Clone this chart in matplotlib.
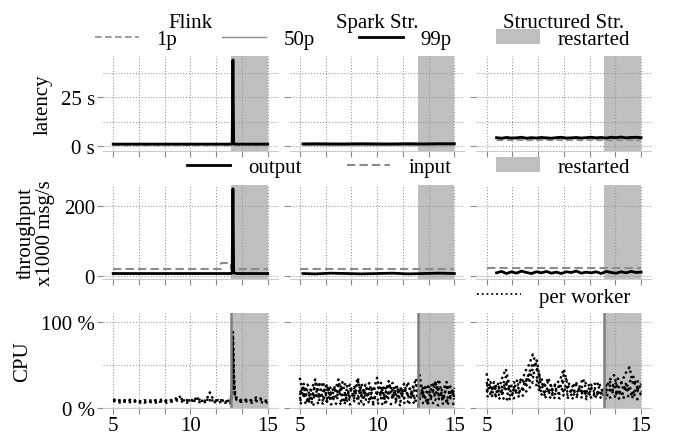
import numpy as np
import matplotlib
matplotlib.use("Agg")
import matplotlib.pyplot as plt
from matplotlib.lines import Line2D
from matplotlib.patches import Patch
from matplotlib.ticker import FixedLocator, FuncFormatter

plt.rcParams["font.family"] = ["Liberation Serif", "DejaVu Serif"]
plt.rcParams["font.size"] = 15

systems = ["Flink", "Spark Str.", "Structured Str."]
restart_at = 12.63
run_end = 15.0

# ---- latency (s) ----
flink_lat_t = [5.0, 6.0, 7.0, 8.0, 9.0, 10.0, 11.0, 12.0, 12.6, 12.7, 12.75, 12.8, 12.9, 13.5, 14.0, 15.0]
flink_lat_1p = [0.5, 0.5, 0.5, 0.5, 0.5, 0.5, 0.5, 0.5, 0.5, 0.5, 0.6, 0.5, 0.5, 0.5, 0.5, 0.5]
flink_lat_50p = [0.8, 0.8, 0.8, 0.8, 0.8, 0.8, 0.8, 0.8, 0.8, 0.9, 1.2, 0.9, 0.8, 0.8, 0.8, 0.8]
flink_lat_99p = [1.1, 1.1, 1.1, 1.1, 1.1, 1.1, 1.1, 1.1, 1.1, 1.2, 44.0, 1.3, 1.1, 1.1, 1.1, 1.1]

spark_lat_t = [5.2, 6.0, 7.0, 8.0, 9.0, 10.0, 11.0, 12.0, 13.0, 14.0, 15.0]
spark_lat_1p = [0.6, 0.6, 0.6, 0.6, 0.6, 0.6, 0.6, 0.6, 0.6, 0.6, 0.6]
spark_lat_50p = [0.9, 0.9, 0.9, 0.9, 0.9, 0.9, 0.9, 0.9, 0.9, 0.9, 0.9]
spark_lat_99p = [1.2, 1.3, 1.2, 1.2, 1.3, 1.2, 1.2, 1.3, 1.2, 1.3, 1.3]

struct_lat_t = np.linspace(5.65, 15.0, 30)
struct_lat_1p = [3.1, 3.0, 3.2, 3.0, 3.1, 3.2, 3.0, 3.1, 3.0, 3.2, 3.1, 3.0, 3.2, 3.1, 3.0,
                 3.1, 3.2, 3.0, 3.1, 3.2, 3.0, 3.1, 3.2, 3.0, 3.1, 3.0, 3.2, 3.1, 3.0, 3.2]
struct_lat_50p = [3.9, 3.7, 4.0, 3.8, 3.9, 3.7, 4.0, 3.8, 3.9, 3.7, 3.8, 4.0, 3.8, 3.9, 3.7,
                  4.0, 3.8, 3.9, 4.0, 3.9, 3.7, 3.8, 4.0, 3.9, 3.8, 4.0, 3.7, 3.9, 3.8, 4.0]
struct_lat_99p = [4.4, 4.1, 4.5, 4.2, 4.3, 4.6, 4.1, 4.4, 4.2, 4.5, 4.3, 4.1, 4.4, 4.6, 4.2,
                  4.3, 4.5, 4.2, 4.4, 4.6, 4.3, 4.5, 4.2, 4.6, 4.4, 4.7, 4.3, 4.5, 4.6, 4.4]

# ---- throughput (x1000 msg/s) ----
flink_out_t = [5.0, 8.0, 11.0, 12.6, 12.7, 12.75, 12.8, 13.0, 14.0, 15.0]
flink_out = [7, 7, 7, 7, 8, 250, 9, 7, 7, 7]
flink_in_t = [5.0, 11.95, 12.63, 15.0]
flink_in = [19, 38, 19, 19]

spark_out_t = [5.2, 6.0, 7.0, 8.0, 9.0, 10.0, 11.0, 12.0, 13.0, 14.0, 15.0]
spark_out = [7, 6, 8, 7, 6, 7, 8, 6, 7, 8, 7]
spark_in_t = [5.0, 15.0]
spark_in = [21, 21]

struct_out_t = np.linspace(5.65, 15.0, 30)
struct_out = [9, 13, 7, 12, 8, 14, 10, 7, 12, 9, 13, 8, 11, 7, 12,
              10, 14, 8, 11, 9, 12, 7, 13, 10, 8, 12, 9, 13, 10, 11]
struct_in_t = [5.0, 15.0]
struct_in = [23, 23]

# ---- CPU per worker (%) ----
flink_cpu_t = [5.0, 5.25, 5.5, 5.75, 6.0, 6.25, 6.5, 6.75, 7.0, 7.25, 7.5, 7.75, 8.0, 8.25,
               8.5, 8.75, 9.0, 9.25, 9.5, 9.75, 10.0, 10.25, 10.5, 10.75, 11.0, 11.25, 11.5,
               11.75, 12.0, 12.25, 12.5, 12.6, 12.7, 12.75, 12.8, 12.85, 12.9, 13.0, 13.25,
               13.5, 13.75, 14.0, 14.25, 14.5, 14.75, 15.0]
flink_cpu = [
    [10, 8, 9, 7, 8, 9, 7, 8, 6, 8, 7, 9, 7, 8, 8, 9, 10, 14, 9, 8, 9, 8, 10, 9, 8, 18, 9, 8,
     9, 8, 7, 6, 30, 88, 45, 25, 15, 11, 9, 10, 8, 9, 12, 10, 8, 7],
    [8, 7, 6, 8, 7, 6, 8, 6, 7, 6, 7, 6, 8, 7, 6, 7, 8, 9, 7, 6, 7, 12, 7, 6, 7, 9, 7, 6,
     7, 6, 6, 5, 20, 70, 35, 18, 12, 9, 7, 8, 7, 6, 8, 7, 6, 6],
    [9, 10, 8, 9, 10, 8, 9, 7, 9, 8, 9, 8, 9, 10, 8, 9, 9, 11, 10, 9, 8, 9, 11, 8, 9, 10, 8,
     9, 8, 9, 8, 7, 25, 80, 40, 22, 14, 10, 8, 9, 10, 8, 9, 11, 9, 8],
]

cpu_t = np.linspace(5.0, 15.0, 41)
spark_cpu = [
    [35, 12, 22, 8, 28, 15, 30, 10, 25, 18, 33, 9, 20, 27, 12, 31, 16, 8, 24, 19, 35, 11, 26,
     14, 29, 9, 22, 17, 30, 12, 25, 38, 10, 21, 28, 13, 33, 9, 24, 16, 20],
    [10, 25, 6, 18, 12, 30, 7, 22, 14, 9, 26, 15, 6, 19, 24, 8, 28, 13, 17, 6, 21, 29, 9, 18,
     12, 27, 7, 23, 14, 19, 8, 26, 15, 6, 22, 31, 10, 17, 7, 25, 12],
    [6, 4, 9, 5, 3, 7, 5, 8, 4, 6, 3, 7, 5, 4, 8, 6, 3, 5, 7, 4, 6, 3, 8, 5, 4, 7, 3, 6, 5, 8,
     4, 3, 6, 5, 7, 4, 3, 5, 6, 4, 5],
    [20, 15, 27, 19, 23, 11, 18, 26, 16, 21, 13, 24, 29, 11, 17, 22, 14, 27, 10, 25, 16, 19,
     13, 28, 20, 15, 24, 11, 18, 26, 21, 14, 19, 27, 12, 17, 23, 20, 30, 11, 18],
    [15, 28, 9, 21, 33, 12, 19, 27, 8, 24, 16, 30, 11, 22, 18, 35, 13, 20, 29, 9, 17, 25, 14,
     31, 10, 23, 19, 28, 12, 16, 34, 9, 26, 18, 13, 29, 21, 8, 27, 15, 23],
    [8, 14, 11, 6, 16, 9, 13, 7, 18, 10, 12, 6, 15, 9, 11, 14, 7, 19, 10, 13, 8, 16, 6, 12, 15,
     9, 18, 11, 7, 14, 10, 13, 17, 6, 11, 9, 15, 12, 8, 14, 10],
]
struct_cpu = [
    [40, 22, 30, 18, 34, 45, 25, 20, 33, 28, 42, 50, 62, 48, 30, 24, 35, 20, 28, 32, 45, 26,
     20, 30, 24, 34, 18, 27, 22, 30, 19, 24, 33, 38, 22, 30, 40, 47, 26, 32, 22],
    [18, 24, 14, 20, 16, 22, 10, 18, 24, 20, 30, 38, 45, 55, 28, 20, 16, 22, 14, 19, 24, 15,
     20, 13, 18, 22, 12, 17, 20, 14, 18, 12, 22, 16, 20, 14, 24, 18, 13, 20, 16],
    [14, 12, 16, 10, 13, 8, 15, 11, 14, 12, 18, 22, 30, 26, 17, 12, 14, 10, 13, 11, 15, 12,
     10, 14, 11, 13, 10, 12, 14, 11, 13, 10, 12, 14, 10, 13, 11, 15, 12, 10, 13],
    [25, 30, 20, 28, 24, 36, 22, 30, 26, 34, 28, 40, 52, 44, 36, 26, 30, 24, 28, 22, 38, 30,
     24, 28, 20, 26, 30, 22, 28, 24, 20, 26, 30, 24, 34, 28, 22, 30, 36, 24, 28],
    [22, 16, 26, 14, 20, 30, 18, 24, 15, 21, 26, 34, 42, 36, 22, 18, 24, 15, 20, 26, 30, 18,
     15, 22, 17, 20, 14, 22, 16, 18, 15, 20, 26, 18, 15, 22, 28, 20, 16, 24, 18],
    [30, 18, 22, 26, 15, 28, 20, 16, 22, 18, 24, 30, 36, 32, 20, 15, 20, 17, 22, 16, 20, 24,
     17, 19, 22, 15, 20, 18, 14, 20, 16, 18, 20, 28, 18, 16, 20, 24, 18, 22, 15],
]

latency = [
    (flink_lat_t, flink_lat_1p, flink_lat_50p, flink_lat_99p),
    (spark_lat_t, spark_lat_1p, spark_lat_50p, spark_lat_99p),
    (struct_lat_t, struct_lat_1p, struct_lat_50p, struct_lat_99p),
]
throughput = [
    (flink_out_t, flink_out, flink_in_t, flink_in),
    (spark_out_t, spark_out, spark_in_t, spark_in),
    (struct_out_t, struct_out, struct_in_t, struct_in),
]
cpu = [(flink_cpu_t, flink_cpu), (cpu_t, spark_cpu), (cpu_t, struct_cpu)]

SHADE = "#bfbfbf"
GRAY = "#8c8c8c"
DOTS = (0, (1, 1.3))

fig, axes = plt.subplots(3, 3, figsize=(6.74, 4.35), dpi=100, sharex=True, sharey="row")
fig.subplots_adjust(left=0.153, right=0.966, bottom=0.060, top=0.869, wspace=0.069, hspace=0.36)

for j in range(3):
    ax = axes[0, j]
    t, p1, p50, p99 = latency[j]
    ax.plot(t, p1, color=GRAY, lw=1.2, ls=(0, (4, 2)))
    ax.plot(t, p50, color=GRAY, lw=1.0)
    ax.plot(t, p99, color="black", lw=2.0)

    ax = axes[1, j]
    ot, ov, it, iv = throughput[j]
    ax.plot(it, iv, color=GRAY, lw=1.5, ls=(0, (4, 2)), drawstyle="steps-post")
    ax.plot(ot, ov, color="black", lw=2.0)

    ax = axes[2, j]
    ct, workers = cpu[j]
    for w in workers:
        ax.plot(ct, w, color="black", lw=1.7, ls=DOTS)
    ax.axvline(restart_at, color="#808080", lw=1.8, zorder=2.5)

for ax in axes.flat:
    ax.axvspan(restart_at, run_end, color=SHADE, lw=0, zorder=0)
    ax.set_xlim(4.35, 15.65)
    ax.xaxis.set_major_locator(FixedLocator([5, 10, 15]))
    ax.xaxis.set_minor_locator(FixedLocator([20 / 3, 25 / 3, 35 / 3, 40 / 3]))
    ax.grid(True, which="both", color="#999999", ls=":", lw=0.8)
    for s in ("top", "right", "left"):
        ax.spines[s].set_visible(False)
    ax.spines["bottom"].set_color("#cccccc")
    ax.tick_params(which="both", length=4, width=0.8, color=GRAY, pad=2)
    ax.tick_params(axis="y", which="minor", length=0)

# latency axis
axes[0, 0].set_ylim(-2.2, 46)
axes[0, 0].yaxis.set_major_locator(FixedLocator([0, 25]))
axes[0, 0].yaxis.set_minor_locator(FixedLocator([12.5, 37.5]))
axes[0, 0].yaxis.set_major_formatter(FuncFormatter(lambda v, p: f"{v:.0f} s"))
axes[0, 0].set_ylabel("latency", labelpad=6)

# throughput axis
axes[1, 0].set_ylim(-9.4, 262)
axes[1, 0].yaxis.set_major_locator(FixedLocator([0, 200]))
axes[1, 0].yaxis.set_minor_locator(FixedLocator([]))
axes[1, 0].set_ylabel("throughput\nx1000 msg/s", labelpad=6, linespacing=1.05)

# CPU axis
axes[2, 0].set_ylim(0, 109.5)
axes[2, 0].yaxis.set_major_locator(FixedLocator([0, 100]))
axes[2, 0].yaxis.set_minor_locator(FixedLocator([50]))
axes[2, 0].yaxis.set_major_formatter(FuncFormatter(lambda v, p: f"{v:.0f} %"))
axes[2, 0].set_ylabel("CPU", labelpad=6)

for j, name in enumerate(systems):
    axes[0, j].set_title(name, pad=21, fontsize=15)

restart_patch = Patch(facecolor=SHADE, edgecolor="none", label="restarted")
leg_kw = dict(frameon=False, borderpad=0, borderaxespad=0, handlelength=2.1,
              handletextpad=0.85, fontsize=15)

h1 = [Line2D([], [], color=GRAY, lw=1.2, ls=(0, (4, 2)), label="1p"),
      Line2D([], [], color=GRAY, lw=1.0, label="50p"),
      Line2D([], [], color="black", lw=2.0, label="99p"),
      restart_patch]
fig.legend(handles=h1, ncol=4, mode="expand", loc="center",
           bbox_to_anchor=(0.141, 1 - 40 / 435, 0.794, 0), **leg_kw)

h2 = [Line2D([], [], color="black", lw=2.0, label="output"),
      Line2D([], [], color=GRAY, lw=1.5, ls=(0, (4, 2)), label="input"),
      restart_patch]
fig.legend(handles=h2, ncol=3, mode="expand", loc="center",
           bbox_to_anchor=(0.277, 1 - 168 / 435, 0.658, 0), **leg_kw)

h3 = [Line2D([], [], color="black", lw=1.3, ls=":", label="per worker")]
fig.legend(handles=h3, loc="center right", bbox_to_anchor=(0.935, 1 - 298 / 435), **leg_kw)

fig.savefig("out.png", dpi=100)
